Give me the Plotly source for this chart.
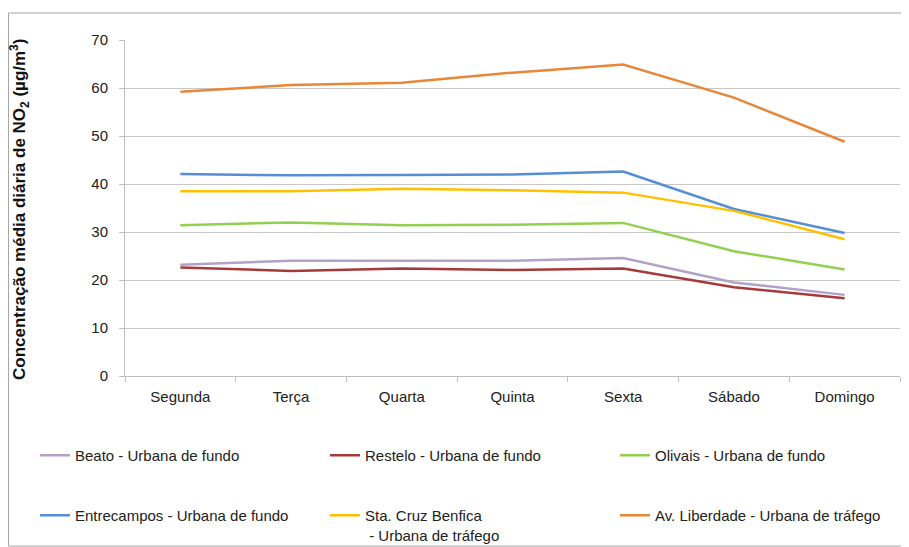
import plotly.graph_objects as go

days = ["Segunda", "Terça", "Quarta", "Quinta", "Sexta", "Sábado", "Domingo"]

beato = [23.2, 24.0, 24.0, 24.0, 24.6, 19.5, 16.9]
restelo = [22.6, 21.9, 22.4, 22.1, 22.4, 18.5, 16.2]
olivais = [31.4, 32.0, 31.4, 31.5, 31.9, 26.0, 22.2]
entrecampos = [42.1, 41.8, 41.9, 42.0, 42.6, 34.8, 29.8]
sta_cruz = [38.5, 38.5, 39.0, 38.7, 38.2, 34.4, 28.5]
av_liberdade = [59.2, 60.6, 61.1, 63.2, 64.9, 58.0, 48.8]

series = [
    ("Beato - Urbana de fundo", beato, "#B3A2C7"),
    ("Restelo - Urbana de fundo", restelo, "#A63A3A"),
    ("Olivais - Urbana de fundo", olivais, "#92D050"),
    ("Entrecampos - Urbana de fundo", entrecampos, "#558ED5"),
    ("Sta. Cruz Benfica<br> - Urbana de tráfego", sta_cruz, "#FFC000"),
    ("Av. Liberdade - Urbana de tráfego", av_liberdade, "#E8873A"),
]

FONT = "Liberation Sans, Arial, sans-serif"
OFF = 8  # default page margin of the browser body

W, H = 909 - OFF, 547 - OFF
L, R, T, B = 125 - OFF, 9, 40 - OFF, 171
pw, ph = W - L - R, H - T - B

def px_x(p):
    return (p - OFF - L) / pw

def px_y(p):
    return (H - B - (p - OFF)) / ph

fig = go.Figure()
legend_names = ["legend", "legend2", "legend3", "legend4", "legend5", "legend6"]
for (name, vals, col), lg in zip(series, legend_names):
    fig.add_trace(go.Scatter(x=days, y=vals, mode="lines", name=name,
                             line=dict(color=col, width=2.5), legend=lg))

col_x = [35, 325, 615]
row_top = [439, 499]
legends = {}
for i, lg in enumerate(legend_names):
    cx = col_x[i % 3] - OFF
    ry = row_top[i // 3] - OFF
    legends[lg] = dict(orientation="h", xref="container", yref="container",
                       x=cx / W, y=1 - ry / H, xanchor="left", yanchor="top",
                       font=dict(size=15), bgcolor="rgba(0,0,0,0)",
                       itemwidth=30, valign="top")

fig.update_layout(
    width=W, height=H,
    margin=dict(l=L, r=R, t=T, b=B, autoexpand=False),
    paper_bgcolor="white", plot_bgcolor="white",
    font=dict(family=FONT, size=15, color="#222222"),
    xaxis=dict(showgrid=False, showline=True, linecolor="#bfbfbf", linewidth=1,
               range=[-0.5, 6.5], ticklabelstandoff=7,
               ticks="outside", tickson="boundaries", ticklen=5, tickcolor="#bfbfbf",
               tickfont=dict(size=15, color="#222222")),
    yaxis=dict(range=[0, 70], dtick=10, showgrid=True, gridcolor="#c8c8c8", gridwidth=1,
               showline=True, linecolor="#bfbfbf", linewidth=1, ticks="outside",
               ticklen=5, tickcolor="#bfbfbf", zeroline=False, ticklabelstandoff=8,
               tickfont=dict(size=15, color="#222222")),
    showlegend=True,
    **legends,
)

fig.add_annotation(
    text="<b>Concentração média diária de NO<sub>2</sub> (µg/m<sup>3</sup>)</b>",
    xref="paper", yref="paper", x=px_x(19), y=px_y(210), textangle=-90,
    showarrow=False, font=dict(size=17, color="#111111"), xanchor="center", yanchor="middle",
)

fig.add_shape(type="rect", xref="paper", yref="paper",
              x0=px_x(8.5), x1=px_x(907), y0=px_y(13), y1=px_y(546),
              line=dict(color="#a6a6a6", width=1), fillcolor="rgba(0,0,0,0)", layer="below")

fig.write_html("out.html")
